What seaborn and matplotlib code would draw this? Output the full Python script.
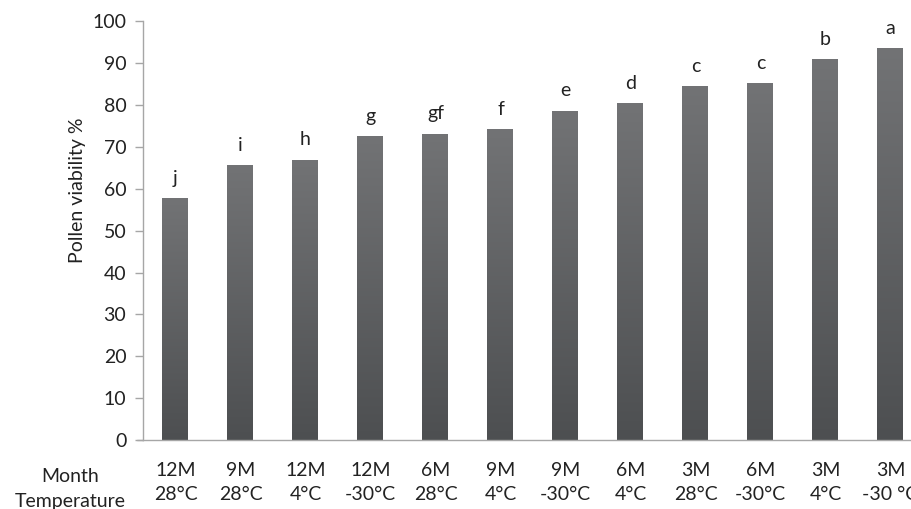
import numpy as np
import pandas as pd
import matplotlib
matplotlib.use("Agg")
import matplotlib.pyplot as plt
import seaborn as sns

# =========================
# DATA
# =========================

months = ["12M", "9M", "12M", "12M", "6M", "9M", "9M", "6M", "3M", "6M", "3M", "3M"]
temps = ["28°C", "28°C", "4°C", "-30°C", "28°C", "4°C", "-30°C", "4°C", "28°C", "-30°C", "4°C", "-30 °C"]
viability = [57.8, 65.6, 67.0, 72.7, 73.2, 74.3, 78.7, 80.5, 84.6, 85.2, 91.1, 93.7]
letters = ["j", "i", "h", "g", "gf", "f", "e", "d", "c", "c", "b", "a"]

labels = [m + "\n" + t for m, t in zip(months, temps)]
df = pd.DataFrame({"group": labels, "viability": viability})

# =========================
# STYLE
# =========================

sns.set_style("white")
plt.rcParams["font.family"] = ["Lato", "DejaVu Sans"]
text_col = "#222222"
axis_col = "#a6a6a6"
fs = 14

W, H = 912, 509
fig = plt.figure(figsize=(W / 100, H / 100), dpi=100)
ax = fig.add_axes([143 / W, (H - 440) / H, 780 / W, 418.5 / H])

sns.barplot(data=df, x="group", y="viability", color="#5f6062",
            width=0.4, saturation=1, ax=ax, errorbar=None)

# gradient fill on each bar (lighter at top, darker at bottom)
grad = np.linspace(0, 1, 256).reshape(-1, 1)
cmap = matplotlib.colors.LinearSegmentedColormap.from_list(
    "bar", ["#4d4f51", "#727375"])
for p in ax.patches:
    x0, y0 = p.get_x(), p.get_y()
    w, h = p.get_width(), p.get_height()
    im = ax.imshow(grad, cmap=cmap, aspect="auto", origin="lower",
                   extent=[x0, x0 + w, y0, y0 + h], zorder=p.get_zorder() + 0.1)
    im.set_clip_path(p)
    p.set_edgecolor("none")

# significance letters
for i, (v, lt) in enumerate(zip(viability, letters)):
    ax.text(i, v + 3.4, lt, ha="center", va="baseline", fontsize=fs, color=text_col)

ax.set_xlim(-0.5, 11.5)
ax.set_ylim(0, 100)
ax.set_yticks(range(0, 101, 10))
ax.tick_params(axis="y", length=6, width=1, color=axis_col, labelsize=fs,
               labelcolor=text_col, pad=6, left=True)
ax.tick_params(axis="x", length=0, labelsize=fs, labelcolor=text_col, pad=16)
for lab in ax.get_xticklabels():
    lab.set_linespacing(1.5)

ax.set_xlabel("")
ax.set_ylabel("")
for s in ["top", "right"]:
    ax.spines[s].set_visible(False)
ax.spines["left"].set_color(axis_col)
ax.spines["bottom"].set_color(axis_col)
ax.spines["left"].set_linewidth(1)
ax.spines["bottom"].set_linewidth(1)
ax.grid(False)

# small axis extension to the left like the y tick at 0
ax.plot([-0.5 - 6 / 65, -0.5], [0, 0], color=axis_col, lw=1, clip_on=False)

fig.text(78 / W, 1 - 190 / H, "Pollen viability %", rotation=90,
         ha="center", va="center", fontsize=fs, color=text_col)
fig.text(70 / W, 1 - 476 / H, "Month", ha="center", va="center",
         fontsize=fs, color=text_col)
fig.text(70 / W, 1 - 502 / H, "Temperature", ha="center", va="center",
         fontsize=fs, color=text_col)

fig.savefig("out.png", dpi=100)
